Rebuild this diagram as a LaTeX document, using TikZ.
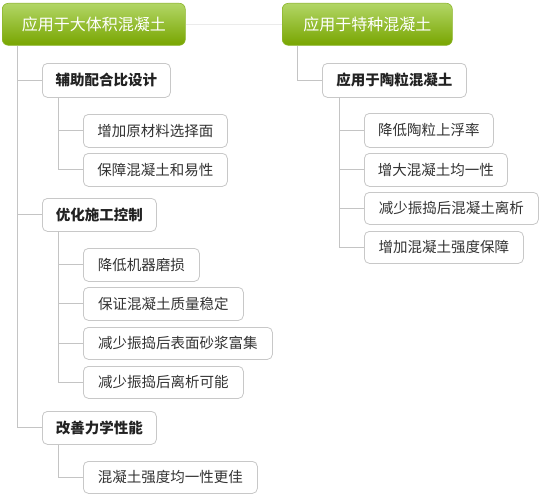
\documentclass[tikz,border=0pt]{standalone}
\usepackage{fontspec}
\setmainfont{Noto Sans CJK SC}
\definecolor{gtop}{HTML}{B2D666}
\definecolor{gbot}{HTML}{78A500}
\definecolor{gdraw}{HTML}{8CB52A}
\definecolor{boxgray}{HTML}{C8C8C8}
\definecolor{linegray}{HTML}{C4C4C4}
\definecolor{faintgray}{HTML}{EBEBEB}
\definecolor{tdark}{HTML}{222222}
\definecolor{tgray}{HTML}{333333}
\begin{document}
\begin{tikzpicture}[x=1pt,y=-1pt,
  rootbox/.style={rectangle, rounded corners=6pt, top color=gtop, bottom color=gbot, draw=gdraw, line width=0.6pt,
    text=white, font=\fontsize{16}{19}\selectfont, inner sep=0pt, anchor=north west},
  lvtwo/.style={rectangle, rounded corners=5pt, draw=boxgray, fill=white, line width=0.8pt,
    text=tdark, font=\bfseries\fontsize{14.5}{17}\selectfont, inner sep=0pt, anchor=north west},
  lvthree/.style={rectangle, rounded corners=5pt, draw=boxgray, fill=white, line width=0.8pt,
    text=tgray, font=\fontsize{14.5}{17}\selectfont, inner sep=0pt, anchor=north west},
  conn/.style={draw=linegray, line width=0.9pt},
  faintconn/.style={draw=faintgray, line width=0.8pt}]
\useasboundingbox (0,0) rectangle (540,495);

% roots
\node[rootbox, minimum width=183pt, minimum height=42pt] (r1) at (2,3) {应用于大体积混凝土};
\node[rootbox, minimum width=170pt, minimum height=42pt] (r2) at (282,3) {应用于特种混凝土};

% level two
\node[lvtwo, minimum width=128pt, minimum height=34pt] (b1) at (42,63) {辅助配合比设计};
\node[lvtwo, minimum width=114pt, minimum height=33pt] (b2) at (42,198) {优化施工控制};
\node[lvtwo, minimum width=114pt, minimum height=33pt] (b3) at (42,411) {改善力学性能};
\node[lvtwo, minimum width=144pt, minimum height=34pt] (c1) at (322,63) {应用于陶粒混凝土};

% level three
\node[lvthree, minimum width=144pt, minimum height=33pt] (a1) at (83,114) {增加原材料选择面};
\node[lvthree, minimum width=144pt, minimum height=33pt] (a2) at (83,153) {保障混凝土和易性};
\node[lvthree, minimum width=116pt, minimum height=33pt] (d1) at (83,248) {降低机器磨损};
\node[lvthree, minimum width=160pt, minimum height=33pt] (d2) at (83,287) {保证混凝土质量稳定};
\node[lvthree, minimum width=189pt, minimum height=32pt] (d3) at (83,327) {减少振捣后表面砂浆富集};
\node[lvthree, minimum width=160pt, minimum height=32pt] (d4) at (83,366) {减少振捣后离析可能};
\node[lvthree, minimum width=174pt, minimum height=32pt] (e1) at (83,461) {混凝土强度均一性更佳};
\node[lvthree, minimum width=129pt, minimum height=34pt] (f1) at (364,113) {降低陶粒上浮率};
\node[lvthree, minimum width=143pt, minimum height=33pt] (f2) at (364,153) {增大混凝土均一性};
\node[lvthree, minimum width=174pt, minimum height=32pt] (f3) at (364,192) {减少振捣后混凝土离析};
\node[lvthree, minimum width=159pt, minimum height=32pt] (f4) at (364,231) {增加混凝土强度保障};

% connectors
\coordinate (t1) at ([xshift=15pt]r1.south west);
\coordinate (t2) at ([xshift=15pt]r2.south west);
\coordinate (tb1) at ([xshift=16pt]b1.south west);
\coordinate (tb2) at ([xshift=16pt]b2.south west);
\coordinate (tb3) at ([xshift=16pt]b3.south west);
\coordinate (tc1) at ([xshift=17pt]c1.south west);

\path[conn] (t1) |- (b1.west);
\path[conn] (t1) |- (b2.west);
\path[conn] (t1) |- (b3.west);
\path[conn] (t2) |- (c1.west);
\path[conn] (tb1) |- (a1.west);
\path[conn] (tb1) |- (a2.west);
\path[conn] (tb2) |- (d1.west);
\path[conn] (tb2) |- (d2.west);
\path[conn] (tb2) |- (d3.west);
\path[conn] (tb2) |- (d4.west);
\path[conn] (tb3) |- (e1.west);
\path[conn] (tc1) |- (f1.west);
\path[conn] (tc1) |- (f2.west);
\path[conn] (tc1) |- (f3.west);
\path[conn] (tc1) |- (f4.west);
\path[faintconn] (r1.east) -- (r2.west);
\end{tikzpicture}
\end{document}
